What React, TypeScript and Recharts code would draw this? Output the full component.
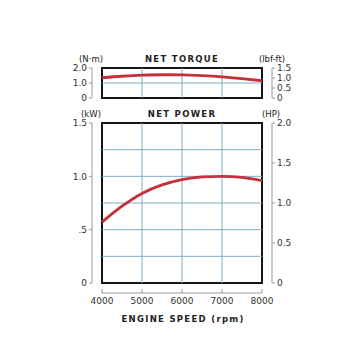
import { LineChart, Line, XAxis, YAxis, ReferenceLine, ReferenceArea } from "recharts";

const rpm = [4000, 4500, 5000, 5500, 6000, 6500, 7000, 7500, 8000];
const torqueNm = [1.35, 1.45, 1.52, 1.55, 1.54, 1.49, 1.41, 1.29, 1.15];
const powerKw = [0.57, 0.72, 0.84, 0.92, 0.97, 0.995, 1.0, 0.99, 0.96];

const rpmTicks = [4000, 5000, 6000, 7000, 8000];
const rpmGrid = [5000, 6000, 7000];
const nmTicks = [0, 1, 2];
const nmGrid = [1];
const lbfTicks = [0, 0.5, 1, 1.5];
const kwTicks = [0, 0.5, 1, 1.5];
const kwGrid = [0.25, 0.5, 0.75, 1, 1.25];
const hpTicks = [0, 0.5, 1, 1.5, 2];

const data = rpm.map((r, i) => ({ rpm: r, torque: torqueNm[i], power: powerKw[i] }));

const FONT = "'DejaVu Sans', sans-serif";
const RED = "#c4303b";
const GRID = "#7eaec6";
const AXIS = "#9a9a9a";
const tickStyle = { fontSize: 9, fill: "#333", fontFamily: FONT };

const fmt = (v: number) => (v === 0 ? "0" : v.toFixed(1));
const fmtKw = (v: number) => (v === 0 ? "0" : v < 1 ? String(v).replace(/^0/, "") : v.toFixed(1));

function Title({ x, y, children, bold }: any) {
  return (
    <div
      style={{
        position: "absolute",
        left: x,
        top: y,
        transform: "translate(-50%, -50%)",
        fontFamily: FONT,
        fontSize: bold ? 8.5 : 8.5,
        fontWeight: bold ? 700 : 400,
        letterSpacing: bold ? 1.3 : 0,
        color: "#222",
        whiteSpace: "nowrap",
        lineHeight: 1,
      }}
    >
      {children}
    </div>
  );
}

function gridLines(yId: string, yGrid: number[], yMax: number) {
  return [
    ...rpmGrid.map((x) => (
      <ReferenceLine key={"vx" + x} yAxisId={yId} segment={[{ x, y: 0 }, { x, y: yMax }]} stroke={GRID} strokeWidth={1} />
    )),
    ...yGrid.map((y) => (
      <ReferenceLine key={"hy" + y} yAxisId={yId} segment={[{ x: 4000, y }, { x: 8000, y }]} stroke={GRID} strokeWidth={1} />
    )),
  ];
}

export default function App() {
  const side = { top: 0, left: 62, right: 58 };
  return (
    <div style={{ position: "absolute", left: 0, top: 0, width: 360, height: 360, background: "#fff" }}>
      <div style={{ position: "absolute", left: 0, top: 0 }}>
        <LineChart width={360} height={110} data={data} margin={{ ...side, top: 68, bottom: 12 }}>
          <XAxis dataKey="rpm" type="number" domain={[4000, 8000]} padding={{ left: 10, right: 10 }} hide />
          <YAxis yAxisId="nm" domain={[0, 2]} ticks={nmTicks} width={30} tickFormatter={fmt}
            stroke={AXIS} tickSize={3} tickMargin={2} tick={tickStyle} interval={0} />
          <YAxis yAxisId="lbf" orientation="right" domain={[0, 1.5]} allowDataOverflow ticks={lbfTicks} width={30} tickFormatter={fmt}
            stroke={AXIS} tickSize={3} tickMargin={2} tick={tickStyle} interval={0} />
          {gridLines("nm", nmGrid, 2)}
          <ReferenceArea yAxisId="nm" x1={4000} x2={8000} y1={0} y2={2} fill="none" stroke="#151515" strokeWidth={2} />
          <Line yAxisId="lbf" dataKey="torque" stroke="none" dot={false} isAnimationActive={false} />
          <Line yAxisId="nm" dataKey="torque" type="monotone" stroke={RED} strokeWidth={2.8} dot={false} isAnimationActive={false} />
        </LineChart>
      </div>
      <div style={{ position: "absolute", left: 0, top: 0 }}>
        <LineChart width={360} height={290} data={data} margin={{ ...side, top: 123, bottom: 7 }}>
          <XAxis dataKey="rpm" type="number" domain={[4000, 8000]} padding={{ left: 10, right: 10 }} hide />
          <YAxis yAxisId="kw" domain={[0, 1.5]} ticks={kwTicks} width={30} tickFormatter={fmtKw}
            stroke={AXIS} tickSize={3} tickMargin={2} tick={tickStyle} interval={0} />
          <YAxis yAxisId="hp" orientation="right" domain={[0, 2]} allowDataOverflow ticks={hpTicks} width={30} tickFormatter={fmt}
            stroke={AXIS} tickSize={3} tickMargin={2} tick={tickStyle} interval={0} />
          {gridLines("kw", kwGrid, 1.5)}
          <ReferenceArea yAxisId="kw" x1={4000} x2={8000} y1={0} y2={1.5} fill="none" stroke="#151515" strokeWidth={2} />
          <Line yAxisId="hp" dataKey="power" stroke="none" dot={false} isAnimationActive={false} />
          <Line yAxisId="kw" dataKey="power" type="monotone" stroke={RED} strokeWidth={2.8} dot={false} isAnimationActive={false} />
        </LineChart>
      </div>
      <div style={{ position: "absolute", left: 0, top: 0 }}>
        <LineChart width={360} height={340} data={data} margin={{ top: 250, bottom: 17, left: 102, right: 98 }}>
          <XAxis dataKey="rpm" type="number" domain={[4000, 8000]} ticks={rpmTicks} height={30} interval={0}
            stroke={AXIS} tickSize={-4} tickMargin={9} tick={tickStyle} />
          <YAxis domain={[0, 1.5]} hide />
          <Line dataKey="power" stroke="none" dot={false} isAnimationActive={false} />
        </LineChart>
      </div>
      <Title x={91} y={59}>(N·m)</Title>
      <Title x={182} y={59} bold>NET TORQUE</Title>
      <Title x={272} y={59}>(lbf-ft)</Title>
      <Title x={91} y={114}>(kW)</Title>
      <Title x={182} y={114} bold>NET POWER</Title>
      <Title x={271} y={114}>(HP)</Title>
      <Title x={183} y={319} bold>ENGINE SPEED (rpm)</Title>
    </div>
  );
}
